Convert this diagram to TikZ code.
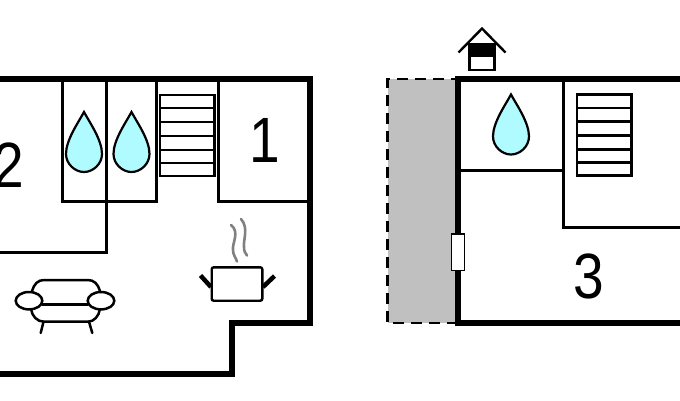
\documentclass[tikz,border=0pt]{standalone}
\usepackage{xcolor}
\usepackage{fontspec}
\setmainfont{Liberation Sans}
\usetikzlibrary{calc}

\definecolor{dropblue}{HTML}{B0FBFF}
\definecolor{terracegray}{HTML}{C0C0C0}

\tikzset{
  waterdrop/.pic={
    \draw[black,line width=2.2pt,fill=dropblue] (0,-30) .. controls (-6,-19) and (-18,-2) .. (-18,12)
      .. controls (-18,22) and (-9,30) .. (0,30) .. controls (9,30) and (18,22) .. (18,12)
      .. controls (18,-2) and (6,-19) .. (0,-30) -- cycle;
  },
  stairway/.pic={
    \draw[black,line width=2.2pt] (0,0) rectangle (54.5,81);
    \foreach \y in {13.5,27,41,55,68} \draw[black,line width=2.2pt] (0,\y) -- (54.5,\y);
  }
}

\begin{document}
\begin{tikzpicture}[x=1pt,y=-1pt]

\clip (0,0) rectangle (680,400);

\tikzstyle{wall} = [black, line width=6pt]
\tikzstyle{thinwall} = [black, line width=3pt]
\tikzstyle{roomno} = [font=\fontsize{64}{64}\selectfont, inner sep=0pt, text=black]
\tikzstyle{iconline} = [black, line width=2.5pt, line cap=round]

% left plan
\draw[thinwall] (62,79) -- (62,201.7) -- (156,201.7) -- (156,79);
\draw[thinwall] (106,79) -- (106,252) -- (0,252);
\draw[thinwall] (218.7,79) -- (218.7,201.7) -- (309.7,201.7);
\draw[wall] (-5,79) -- (309.7,79) -- (309.7,322.7) -- (231.5,322.7) -- (231.5,373.7) -- (-5,373.7);

\pic at (84,142) {waterdrop};
\pic at (131.5,142) {waterdrop};
\pic at (160,94.7) {stairway};

\node (room2) [roomno] at (8.5,165.5) {\scalebox{.86}[1]{2}};
\node (room1) [roomno] at (265,140) {\scalebox{.86}[1]{1}};

% pot
\draw[black, line width=2.4pt, rounded corners=2pt] (211.7,267.3) -- (262.3,267.3) -- (262.3,300.7) -- (211.7,300.7) -- cycle;
\draw[black, line width=4.5pt] (211,287) -- (200.5,275.5);
\draw[black, line width=4.5pt] (263,287) -- (274.5,276);
\draw[gray, line width=2.6pt, line cap=round] (231,225) .. controls (240,232) and (232,243) .. (233,250) .. controls (233,255) and (236,258) .. (237,261.5);
\draw[gray, line width=2.6pt, line cap=round] (241,219) .. controls (249,228) and (243,240) .. (244,247) .. controls (244,251) and (245,253) .. (247,255.5);

% sofa
\draw[iconline] (32,291) .. controls (34,284) and (38,280) .. (44,280) -- (88,280) .. controls (94,280) and (98,284) .. (100,291);
\draw[iconline] (31,309) .. controls (32,316) and (37,321.7) .. (44,321.7) -- (88,321.7) .. controls (94,321.7) and (99,316) .. (100,309);
\draw[iconline] (42,304.5) -- (88,304.5);
\draw[iconline] (29,300.7) ellipse (13.3 and 8.7);
\draw[iconline] (101,300.7) ellipse (13.3 and 8.7);
\draw[iconline] (43.5,321.7) -- (40.7,333);
\draw[iconline] (89,321.7) -- (92.3,333);

% right plan
\fill[terracegray] (387.5,79) rectangle (458,323);
\draw[black, line width=2.6pt, dash pattern=on 11pt off 7pt] (458,323) -- (387.5,323) -- (387.5,79) -- (458,79);

\draw[thinwall] (563.3,79) -- (563.3,227.3) -- (685,227.3);
\draw[thinwall] (458,170.7) -- (563.3,170.7);
\draw[wall] (685,79) -- (458,79) -- (458,323) -- (685,323);

\node (door) [draw=black, fill=white, line width=1.2pt, inner sep=0pt, minimum width=12.5pt, minimum height=36.5pt] at (458,252.3) {};

\pic at (511,124.5) {waterdrop};
\pic at (577,94.5) {stairway};

\node (room3) [roomno] at (589,276) {\scalebox{.86}[1]{3}};

% house symbol
\draw[black, line width=2.4pt] (458.5,52.5) -- (482,28.5) -- (505.5,52.5);
\draw[black, line width=2.4pt, fill=white] (469.5,44.5) rectangle (494.5,70);
\fill[black] (469.5,44.5) rectangle (494.5,57.3);

\end{tikzpicture}
\end{document}
